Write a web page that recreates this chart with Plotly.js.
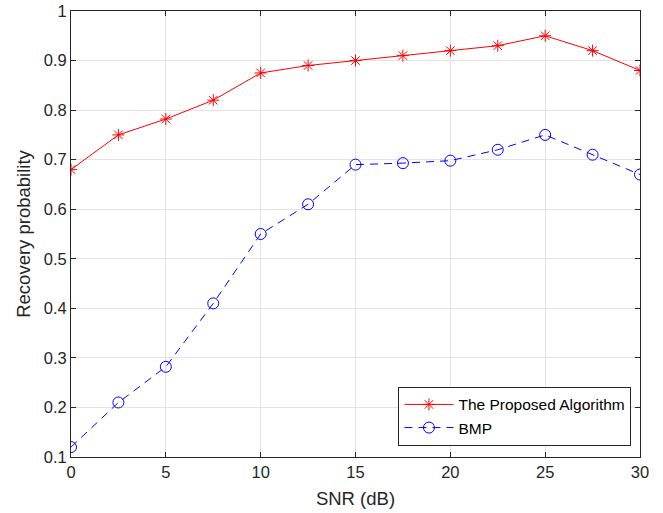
<!DOCTYPE html>
<html><head><meta charset="utf-8">
<script src="https://cdn.plot.ly/plotly-3.0.1.min.js"></script>
<style>html,body{margin:0;padding:0;background:#fff}#chart{width:663px;height:513px}</style>
</head><body><div id="chart"></div>
<script>
const snr = [0, 2.5, 5, 7.5, 10, 12.5, 15, 17.5, 20, 22.5, 25, 27.5, 30];
const proposed = [0.68, 0.75, 0.782, 0.82, 0.875, 0.89, 0.90, 0.91, 0.92, 0.93, 0.95, 0.92, 0.88];
const bmp = [0.12, 0.21, 0.282, 0.41, 0.55, 0.61, 0.69, 0.693, 0.698, 0.72, 0.75, 0.71, 0.67];
const xTicks = [0, 5, 10, 15, 20, 25, 30];
const yTicks = [0.1, 0.2, 0.3, 0.4, 0.5, 0.6, 0.7, 0.8, 0.9, 1];

const traces = [
  {x: snr, y: proposed, name: 'The Proposed Algorithm', type: 'scatter', mode: 'lines+markers',
   line: {color: '#ff0000', width: 1},
   marker: {symbol: 'asterisk-open', size: 10, color: '#ff0000', line: {color: '#ff0000', width: 1}}},
  {x: snr, y: bmp, name: 'BMP', type: 'scatter', mode: 'lines+markers',
   line: {color: '#0000ff', width: 1, dash: '8px,6px'},
   marker: {symbol: 'circle-open', size: 11, color: '#0000ff', line: {color: '#0000ff', width: 1}}}
];
const axisCommon = {
  showline: true, mirror: 'ticks', linecolor: '#262626', linewidth: 1,
  ticks: 'inside', ticklen: 5, tickcolor: '#262626',
  showgrid: true, gridcolor: '#e3e3e3', gridwidth: 1, zeroline: false,
  tickfont: {family: 'Liberation Sans, Arial, sans-serif', size: 16.5, color: '#262626'}
};
const layout = {
  width: 663, height: 513,
  margin: {l: 71, r: 23, t: 10.5, b: 56},
  paper_bgcolor: '#fff', plot_bgcolor: '#fff',
  font: {family: 'Liberation Sans, Arial, sans-serif', color: '#262626'},
  xaxis: Object.assign({}, axisCommon, {range: [0, 30], tickvals: xTicks, ticktext: xTicks.map(String),
    title: {text: 'SNR (dB)', font: {size: 18.5, color: '#262626'}, standoff: 12}}),
  yaxis: Object.assign({}, axisCommon, {range: [0.1, 1], tickvals: yTicks, ticktext: yTicks.map(v => String(v)),
    title: {text: 'Recovery probability', font: {size: 18.5, color: '#262626'}, standoff: 8}}),
  legend: {x: 0.985, y: 0.025, xanchor: 'right', yanchor: 'bottom', bgcolor: '#fff',
    bordercolor: '#262626', borderwidth: 1, font: {size: 15.5, color: '#000'}, tracegroupgap: 0,
    itemwidth: 49},
  showlegend: true
};
Plotly.newPlot('chart', traces, layout, {displayModeBar: false, staticPlot: true});
</script></body></html>
